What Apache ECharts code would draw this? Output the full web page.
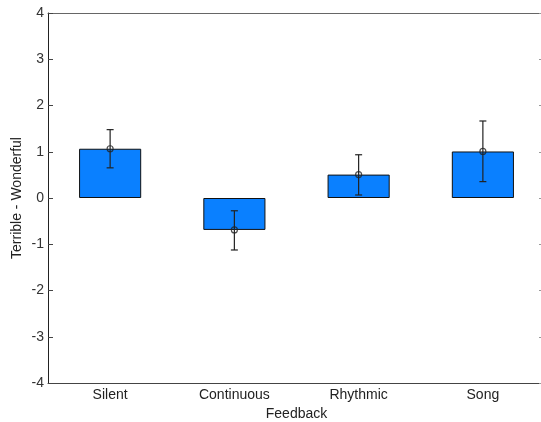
<!DOCTYPE html>
<html>
<head>
<meta charset="utf-8">
<script src="https://cdn.jsdelivr.net/npm/echarts@6/dist/echarts.min.js"></script>
<style>html,body{margin:0;padding:0;background:#fff;}#c{width:541px;height:422px;}</style>
</head>
<body>
<div id="c"></div>
<script>
var categories = ['Silent', 'Continuous', 'Rhythmic', 'Song'];
var means = [1.065, -0.69, 0.506, 1.006];
var errLower = [0.652, -1.124, 0.065, 0.354];
var errUpper = [1.478, -0.276, 0.935, 1.665];
var yTicks = [-4, -3, -2, -1, 0, 1, 2, 3, 4];

var chart = echarts.init(document.getElementById('c'), null, {renderer: 'canvas'});
var font = 'Liberation Sans';
var errData = categories.map(function (c, i) { return [i, errLower[i], errUpper[i]]; });

chart.setOption({
  animation: false,
  backgroundColor: '#fff',
  grid: {left: 48, right: -4, top: 13, bottom: 39, show: false, containLabel: false, outerBoundsMode: 'none'},
  xAxis: [{
    type: 'category', data: categories, position: 'bottom',
    boundaryGap: true,
    name: 'Feedback', nameLocation: 'middle', nameGap: 22,
    nameTextStyle: {fontFamily: font, fontSize: 14, color: '#222'},
    axisLine: {onZero: false, lineStyle: {color: '#444', width: 1}},
    axisTick: {inside: true, alignWithLabel: true, length: 5, lineStyle: {color: '#444'}},
    axisLabel: {fontFamily: font, fontSize: 14, color: '#222', margin: 5},
    splitLine: {show: false}
  }, {
    type: 'category', data: categories, position: 'top',
    boundaryGap: true,
    axisLine: {onZero: false, lineStyle: {color: '#666', width: 1}},
    axisTick: {inside: true, alignWithLabel: true, length: 5, lineStyle: {color: '#555'}},
    axisLabel: {show: false},
    splitLine: {show: false}
  }],
  yAxis: [{
    type: 'value', min: -4, max: 4, interval: 1, position: 'left',
    name: 'Terrible - Wonderful', nameLocation: 'middle', nameGap: 24,
    nameMoveOverlap: false,
    nameTextStyle: {fontFamily: font, fontSize: 14, color: '#222'},
    axisLine: {show: true, onZero: false, lineStyle: {color: '#222', width: 1}},
    axisTick: {show: true, inside: true, length: 5, lineStyle: {color: '#444'}},
    axisLabel: {fontFamily: font, fontSize: 14, color: '#333', margin: 4,
      formatter: function (v) { return yTicks.indexOf(v) >= 0 ? String(v) : ''; }},
    splitLine: {show: false}
  }, {
    type: 'value', min: -4, max: 4, interval: 1, position: 'right',
    axisLine: {show: true, onZero: false, lineStyle: {color: '#444', width: 1}},
    axisTick: {show: true, inside: true, length: 6, lineStyle: {color: '#999'}},
    axisLabel: {show: false},
    splitLine: {show: false}
  }],
  series: [{
    type: 'bar', data: means, barWidth: '50%',
    itemStyle: {color: '#0a80ff', borderColor: '#111', borderWidth: 1},
    z: 2
  }, {
    type: 'custom', data: errData, z: 5,
    renderItem: function (params, api) {
      var x = api.value(0);
      var lo = api.coord([x, api.value(1)]);
      var hi = api.coord([x, api.value(2)]);
      var hw = 3.5;
      var st = {stroke: '#222', lineWidth: 1.2};
      return {type: 'group', children: [
        {type: 'line', shape: {x1: lo[0], y1: lo[1], x2: hi[0], y2: hi[1]}, style: st},
        {type: 'line', shape: {x1: lo[0] - hw, y1: lo[1], x2: lo[0] + hw, y2: lo[1]}, style: st},
        {type: 'line', shape: {x1: hi[0] - hw, y1: hi[1], x2: hi[0] + hw, y2: hi[1]}, style: st}
      ]};
    }
  }, {
    type: 'scatter', data: means, symbol: 'circle', symbolSize: 6, z: 6,
    itemStyle: {color: 'rgba(0,0,0,0)', borderColor: '#222', borderWidth: 1.2},
    silent: true
  }]
});
</script>
</body>
</html>
